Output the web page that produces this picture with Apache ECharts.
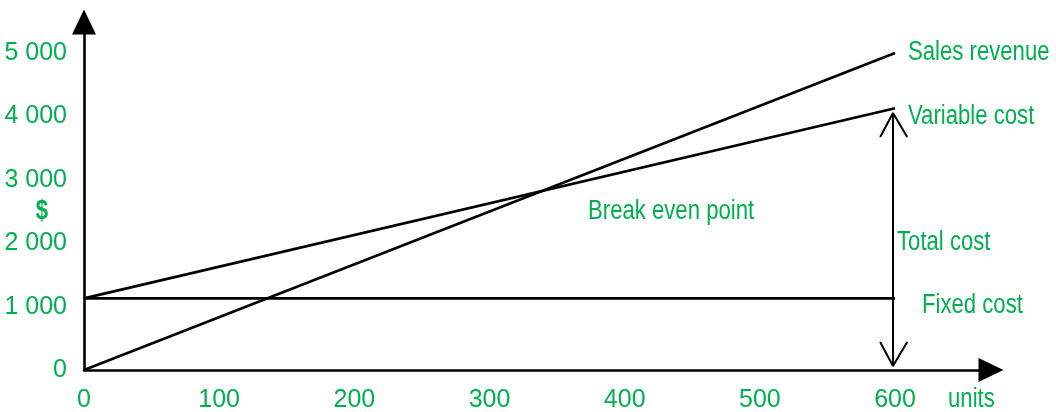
<!DOCTYPE html>
<html>
<head>
<meta charset="utf-8">
<script src="https://cdn.jsdelivr.net/npm/echarts@6/dist/echarts.min.js"></script>
<style>html,body{margin:0;padding:0;background:#fff}#c{width:1056px;height:412px}</style>
</head>
<body>
<div id="c"></div>
<script>
// Data
const unitsX = [0, 600];
const salesRevenue = [0, 5000];
const variableCost = [1130, 4130];
const fixedCost = [1130, 1130];
const totalCostX = 598.5;
const totalCostSpan = [63, 4054];
const arrowArmX = [589, 598.5, 609];
const topArrowY = [3675, 4054, 3675];
const bottomArrowY = [442, 63, 442];
const xTicks = [0, 100, 200, 300, 400, 500, 600];
const yTicks = [0, 1000, 2000, 3000, 4000, 5000];
const labels = {
  sales: 'Sales revenue', variable: 'Variable cost', fixed: 'Fixed cost',
  total: 'Total cost', breakEven: 'Break even point', yName: '$', xName: 'units'
};

const GREEN = '#00b050';
const FONT = '"Liberation Sans", Arial, sans-serif';
const AXFS = 25;
const SX = 0.82;

function pairs(xs, ys) { return xs.map((x, i) => [x, ys[i]]); }
function fmtY(v) { return v === 0 ? '0' : (v / 1000) + ' 000'; }
function note(text, x, y, align, bold) {
  return { type: 'text', x: x, y: y, scaleX: SX, silent: true,
    style: { text: text, fill: GREEN, font: (bold ? 'bold ' : '') + '27px ' + FONT,
      textAlign: align || 'left', textVerticalAlign: 'middle' } };
}

const lineBase = { type: 'line', showSymbol: false, symbol: 'none', silent: true,
  lineStyle: { color: '#000', width: 2.6 }, animation: false };

const chart = echarts.init(document.getElementById('c'), null, { renderer: 'canvas' });
chart.setOption({
  animation: false,
  grid: { left: 84, right: 65, top: 22, bottom: 42, containLabel: false, outerBoundsMode: 'none' },
  xAxis: {
    type: 'value', min: 0, max: 671, interval: 100,
    axisLine: { show: true, lineStyle: { color: '#000', width: 2.6 }, symbol: ['none', 'triangle'], symbolSize: [24, 25] },
    axisTick: { show: false }, splitLine: { show: false },
    axisLabel: { color: GREEN, fontFamily: FONT, fontSize: AXFS, margin: 18,
      formatter: v => xTicks.indexOf(v) >= 0 ? String(v) : '' }
  },
  yAxis: {
    type: 'value', min: 0, max: 5490, interval: 1000,
    axisLine: { show: true, lineStyle: { color: '#000', width: 2.6 }, symbol: ['none', 'triangle'], symbolSize: [24, 25] },
    axisTick: { show: false }, splitLine: { show: false },
    axisLabel: { color: GREEN, fontFamily: FONT, fontSize: AXFS, margin: 17,
      formatter: v => yTicks.indexOf(v) >= 0 ? fmtY(v) : '' }
  },
  graphic: [
    note(labels.yName, 42, 212, 'center', true),
    note(labels.xName, 948, 400),
    note(labels.total, 897, 243),
    note(labels.breakEven, 588, 212),
    note(labels.sales, 908, 53),
    note(labels.variable, 908, 117),
    note(labels.fixed, 922, 306)
  ],
  series: [
    Object.assign({}, lineBase, { name: labels.sales, data: pairs(unitsX, salesRevenue) }),
    Object.assign({}, lineBase, { name: labels.variable, data: pairs(unitsX, variableCost) }),
    Object.assign({}, lineBase, { name: labels.fixed, data: pairs(unitsX, fixedCost) }),
    Object.assign({}, lineBase, { name: 'total', lineStyle: { color: '#000', width: 2 },
      data: [[totalCostX, totalCostSpan[0]], [totalCostX, totalCostSpan[1]]] }),
    Object.assign({}, lineBase, { name: 'arrowTop', lineStyle: { color: '#000', width: 2 },
      data: pairs(arrowArmX, topArrowY) }),
    Object.assign({}, lineBase, { name: 'arrowBottom', lineStyle: { color: '#000', width: 2 },
      data: pairs(arrowArmX, bottomArrowY) })
  ]
});
</script>
</body>
</html>
